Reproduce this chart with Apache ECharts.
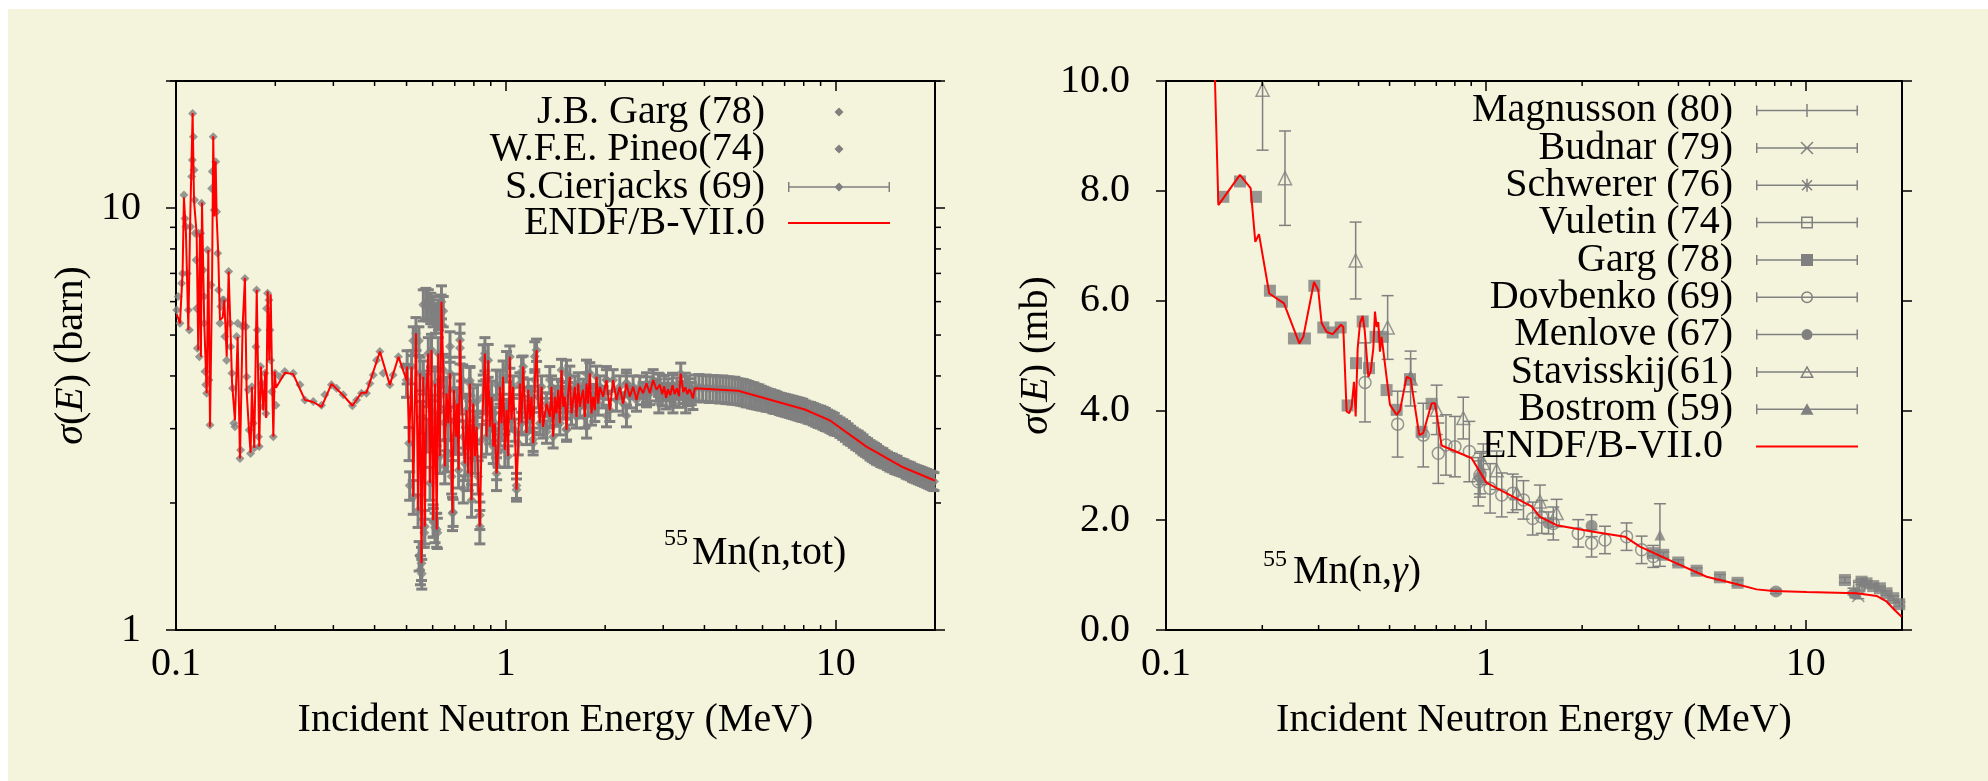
<!DOCTYPE html>
<html><head><meta charset="utf-8">
<script src="https://cdn.jsdelivr.net/npm/echarts@6.0.0/dist/echarts.min.js"></script>
<style>
html,body{margin:0;padding:0;background:#fff;}
#bg{position:absolute;left:8px;top:9px;width:1980px;height:772px;background:#f4f4dc;}
#chart{position:absolute;left:0;top:0;width:1988px;height:781px;}
</style></head><body><div id="bg"></div><div id="chart"></div>
<script>
// ---------------- data ----------------
// tick values
const energyMinorTicks = [0.2,0.3,0.4,0.5,0.6,0.7,0.8,0.9,2,3,4,5,6,7,8,9,20];
const totMinorTicks = [2,3,4,5,6,7,8,9,20];

// Left panel: 55Mn total cross section (barn)
const gargTot = [[0.1005,5.73],[0.1016,6.17],[0.1028,5.33],[0.1040,6.63],[0.1047,7.00],[0.1057,10.74],[0.1065,9.45],[0.1072,9.03],[0.1082,7.00],[0.1090,5.73],[0.1098,5.14],[0.1108,9.03],[0.1116,11.87],[0.1121,12.99],[0.1123,16.76],[0.1129,14.76],[0.1134,12.31],[0.1139,10.45],[0.1142,8.71],[0.1150,7.53],[0.1155,5.78],[0.1161,4.65],[0.1169,8.71],[0.1177,4.44],[0.1188,8.71],[0.1196,10.26],[0.1210,7.13],[0.1216,6.17],[0.1218,5.33],[0.1224,4.10],[0.1231,3.81],[0.1239,3.64],[0.1246,7.95],[0.1258,3.91],[0.1268,3.06],[0.1277,6.57],[0.1283,11.13],[0.1288,12.20],[0.1297,14.76],[0.1306,9.89],[0.1319,12.88],[0.1328,9.80],[0.1337,7.81],[0.1346,6.39],[0.1359,5.33],[0.1368,5.84],[0.1384,6.05],[0.1397,6.05],[0.1406,4.96],[0.1424,4.36],[0.1444,7.07],[0.1458,5.33],[0.1465,4.69],[0.1478,4.06],[0.1485,3.74],[0.1498,3.09],[0.1509,3.03],[0.1527,4.96],[0.1538,5.33],[0.1563,2.55],[0.1570,2.67],[0.1592,5.23],[0.1607,5.28],[0.1618,6.81],[0.1629,5.23],[0.1637,3.98],[0.1656,3.71],[0.1667,2.98],[0.1683,2.62],[0.1698,3.77],[0.1715,3.09],[0.1727,2.70],[0.1747,4.69],[0.1755,6.39],[0.1763,5.14],[0.1779,2.87],[0.1787,2.72],[0.1804,4.21],[0.1821,3.84],[0.1839,3.38],[0.1860,4.06],[0.1873,3.26],[0.1882,5.78],[0.1895,6.28],[0.1913,6.05],[0.1927,5.14],[0.1936,4.36],[0.1950,3.67],[0.1972,2.87],[0.1995,4.06],[0.2009,3.41]];
const pineoTot = [[0.2066,3.98],[0.2137,4.10],[0.2267,4.06],[0.2375,3.81],[0.2459,3.51],[0.2607,3.48],[0.2761,3.41],[0.2826,3.61],[0.2960,3.81],[0.3067,3.74],[0.3212,3.61],[0.3426,3.40],[0.3528,3.51],[0.3651,3.64],[0.3779,3.64],[0.3871,3.84],[0.3962,4.02],[0.4055,4.36],[0.4151,4.57],[0.4248,4.06],[0.4449,3.81],[0.4553,4.02],[0.4724,4.44],[0.4887,4.21]];
// resonance region 0.5-3.7 MeV: [E, sigma, error]; ENDF curve runs through these same readings
const totDense = [[0.500,3.91,0.35],[0.502,4.21,0.38],[0.509,2.77,0.25],[0.518,4.21,0.38],[0.524,2.07,0.19],[0.534,5.05,0.45],[0.542,1.92,0.17],[0.549,4.06,0.37],[0.555,1.44,0.13],[0.562,3.98,0.36],[0.568,1.76,0.16],[0.575,3.71,0.33],[0.582,4.52,0.41],[0.589,2.23,0.2],[0.595,4.61,0.41],[0.602,1.82,0.16],[0.610,3.84,0.35],[0.617,1.73,0.16],[0.624,4.52,0.41],[0.631,2.58,0.23],[0.638,6.00,0.54],[0.646,4.13,0.37],[0.653,2.44,0.22],[0.661,3.64,0.33],[0.669,3.09,0.28],[0.677,4.06,0.37],[0.685,2.31,0.21],[0.689,1.89,0.17],[0.696,3.71,0.33],[0.706,2.87,0.26],[0.712,3.44,0.31],[0.719,2.39,0.22],[0.726,4.87,0.44],[0.734,3.57,0.32],[0.743,2.87,0.26],[0.751,2.48,0.22],[0.760,3.32,0.3],[0.769,2.35,0.21],[0.778,3.84,0.35],[0.787,2.03,0.18],[0.796,3.44,0.31],[0.806,2.58,0.23],[0.815,3.03,0.27],[0.824,2.31,0.21],[0.834,1.76,0.16],[0.844,2.82,0.25],[0.854,3.57,0.32],[0.864,4.52,0.41],[0.874,2.87,0.26],[0.884,4.36,0.39],[0.894,3.03,0.27],[0.905,3.57,0.32],[0.916,2.72,0.24],[0.926,3.09,0.28],[0.937,2.35,0.21],[0.948,2.67,0.24],[0.959,3.77,0.34],[0.970,3.09,0.28],[0.981,3.98,0.36],[0.993,2.67,0.24],[1.005,3.32,0.2],[1.016,2.58,0.15],[1.028,4.44,0.27],[1.040,3.15,0.19],[1.052,3.77,0.23],[1.065,2.98,0.18],[1.077,2.15,0.13],[1.090,2.77,0.17],[1.103,3.84,0.23],[1.116,3.09,0.19],[1.128,4.21,0.25],[1.142,3.38,0.2],[1.155,2.93,0.18],[1.169,3.71,0.22],[1.182,3.15,0.19],[1.196,3.57,0.21],[1.210,2.77,0.17],[1.224,3.91,0.23],[1.239,4.61,0.28],[1.253,3.57,0.21],[1.268,3.09,0.19],[1.283,3.77,0.23],[1.297,3.03,0.18],[1.328,3.44,0.21],[1.359,3.20,0.19],[1.375,3.77,0.23],[1.391,2.87,0.17],[1.408,3.57,0.21],[1.424,3.26,0.2],[1.441,3.71,0.22],[1.458,3.09,0.19],[1.475,4.13,0.25],[1.492,3.38,0.2],[1.510,3.57,0.21],[1.527,2.98,0.18],[1.545,3.64,0.22],[1.563,3.98,0.24],[1.581,3.26,0.2],[1.600,3.51,0.21],[1.619,3.77,0.23],[1.637,3.20,0.19],[1.657,3.84,0.23],[1.676,3.38,0.2],[1.696,3.57,0.21],[1.715,3.71,0.22],[1.735,3.20,0.19],[1.756,3.84,0.23],[1.776,3.44,0.21],[1.797,4.06,0.24],[1.818,3.26,0.2],[1.839,3.57,0.21],[1.861,3.32,0.2],[1.883,3.98,0.24],[1.905,3.44,0.21],[1.927,3.77,0.23],[1.972,3.57,0.21],[2.018,3.91,0.23],[2.066,3.32,0.2],[2.114,3.91,0.23],[2.164,3.51,0.21],[2.215,3.77,0.23],[2.267,3.44,0.21],[2.320,3.84,0.23],[2.375,3.57,0.21],[2.431,3.77,0.23],[2.489,3.51,0.21],[2.547,3.77,0.23],[2.607,3.64,0.22],[2.669,3.84,0.23],[2.732,3.64,0.22],[2.796,3.91,0.23],[2.862,3.71,0.22],[2.929,3.81,0.23],[2.98,3.62,0.22],[3.02,3.78,0.23],[3.06,3.55,0.21],[3.1,3.72,0.22],[3.15,3.60,0.22],[3.2,3.80,0.23],[3.25,3.62,0.22],[3.3,3.74,0.22],[3.35,3.58,0.21],[3.39,4.05,0.24],[3.45,3.66,0.22],[3.5,3.76,0.23],[3.55,3.62,0.22],[3.6,3.72,0.22],[3.65,3.64,0.22],[3.69,3.54,0.21]];
// Cierjacks points that lie off the ENDF curve (inside and at the outer edge of the grey envelope)
const cierjacksOff = [[0.511,2.2,0.17],[0.524,4.85,0.38],[0.545,4.85,0.38],[0.546,1.5,0.12],[0.551,1.39,0.11],[0.556,1.36,0.11],[0.558,3.2,0.28],[0.562,5.9,0.5],[0.566,1.7,0.13],[0.572,5.95,0.5],[0.578,2.9,0.26],[0.582,5.9,0.5],[0.592,5.8,0.48],[0.598,3.3,0.3],[0.602,5.7,0.47],[0.603,1.8,0.14],[0.610,1.75,0.14],[0.612,5.5,0.45],[0.615,3.0,0.27],[0.620,1.7,0.14],[0.625,5.6,0.46],[0.634,3.6,0.32],[0.636,5.75,0.47],[0.646,5.7,0.47],[0.650,3.1,0.28],[0.665,2.6,0.23],[0.677,4.7,0.39],[0.692,1.9,0.14],[0.700,2.9,0.26],[0.726,4.66,0.39],[0.740,3.9,0.35],[0.743,2.16,0.16],[0.778,3.9,0.31],[0.790,2.8,0.25],[0.820,3.5,0.31],[0.834,1.87,0.14],[0.854,4.38,0.36],[0.870,3.6,0.32],[0.910,3.3,0.3],[0.937,3.82,0.31],[0.938,2.45,0.18],[0.960,3.0,0.27],[1.005,4.22,0.35],[1.077,2.2,0.15],[1.116,4.1,0.34],[1.210,2.83,0.18],[1.224,4.45,0.37],[1.328,2.95,0.18],[1.359,3.92,0.29],[1.527,4.05,0.31],[1.528,3.0,0.18],[1.756,4.05,0.31],[1.757,3.03,0.18],[2.018,3.92,0.29],[2.019,3.22,0.19],[2.320,3.85,0.28],[2.321,3.22,0.19],[2.669,3.72,0.26],[2.670,3.55,0.17],[2.9,3.82,0.24],[2.91,3.45,0.18],[3.2,3.82,0.24],[3.21,3.45,0.18],[3.5,3.82,0.24],[3.51,3.45,0.18]];
const cierjacksHigh = [[3.75,3.75,0.27],[3.85,3.76,0.27],[3.95,3.74,0.27],[4.05,3.75,0.27],[4.15,3.73,0.27],[4.25,3.74,0.27],[4.35,3.73,0.27],[4.45,3.72,0.27],[4.55,3.73,0.27],[4.65,3.71,0.27],[4.75,3.71,0.27],[4.85,3.70,0.27],[4.95,3.70,0.27],[5.05,3.68,0.26],[5.15,3.67,0.26],[5.25,3.66,0.26],[5.35,3.64,0.26],[5.45,3.63,0.25],[5.55,3.61,0.25],[5.65,3.60,0.25],[5.75,3.58,0.24],[5.85,3.57,0.24],[5.95,3.55,0.23],[6.05,3.54,0.22],[6.15,3.52,0.22],[6.25,3.51,0.21],[6.35,3.50,0.21],[6.45,3.48,0.21],[6.55,3.47,0.21],[6.65,3.46,0.2],[6.75,3.44,0.2],[6.85,3.43,0.2],[6.95,3.42,0.2],[7.05,3.41,0.2],[7.15,3.40,0.2],[7.25,3.39,0.2],[7.35,3.38,0.2],[7.45,3.37,0.2],[7.55,3.36,0.2],[7.65,3.35,0.2],[7.75,3.34,0.2],[7.85,3.33,0.2],[7.95,3.32,0.2],[8.1,3.30,0.19],[8.25,3.28,0.19],[8.4,3.27,0.19],[8.55,3.25,0.19],[8.7,3.23,0.19],[8.85,3.21,0.19],[9.0,3.20,0.19],[9.15,3.18,0.19],[9.3,3.16,0.19],[9.45,3.14,0.18],[9.6,3.12,0.18],[9.75,3.10,0.18],[9.9,3.08,0.18],[10.1,3.05,0.16],[10.3,3.02,0.16],[10.5,2.99,0.16],[10.7,2.96,0.16],[10.9,2.92,0.16],[11.1,2.89,0.15],[11.3,2.86,0.15],[11.5,2.83,0.15],[11.7,2.81,0.15],[11.9,2.78,0.15],[12.1,2.75,0.15],[12.3,2.72,0.14],[12.5,2.70,0.14],[12.7,2.67,0.14],[12.9,2.65,0.14],[13.1,2.63,0.14],[13.3,2.61,0.14],[13.5,2.59,0.13],[13.7,2.57,0.13],[13.9,2.56,0.13],[14.1,2.54,0.12],[14.35,2.52,0.12],[14.6,2.50,0.12],[14.85,2.49,0.12],[15.1,2.47,0.12],[15.35,2.46,0.12],[15.6,2.44,0.11],[15.85,2.43,0.11],[16.1,2.42,0.11],[16.35,2.40,0.11],[16.6,2.39,0.11],[16.85,2.38,0.11],[17.1,2.36,0.11],[17.35,2.35,0.11],[17.6,2.34,0.11],[17.85,2.33,0.11],[18.1,2.32,0.11],[18.35,2.31,0.11],[18.6,2.30,0.11],[18.85,2.29,0.11],[19.1,2.28,0.11],[19.35,2.27,0.11],[19.6,2.26,0.11],[19.85,2.25,0.11]];
const endfTotLow = [[0.1005,5.6],[0.1028,5.33],[0.1047,7.0],[0.1057,10.6],[0.1072,8.7],[0.1090,5.14],[0.1103,9.0],[0.1123,16.8],[0.1134,10.4],[0.1155,8.7],[0.1168,4.6],[0.1182,8.7],[0.1190,4.44],[0.1199,10.3],[0.1218,5.33],[0.1239,3.64],[0.1253,7.95],[0.1268,3.03],[0.1286,6.63],[0.1297,14.8],[0.1307,9.55],[0.1319,12.9],[0.1328,9.55],[0.1343,7.8],[0.1359,5.43],[0.1385,5.5],[0.1401,6.06],[0.1425,4.44],[0.1444,7.07],[0.1461,5.33],[0.1479,3.85],[0.1509,3.14],[0.1538,4.95],[0.1563,2.55],[0.1592,5.23],[0.1618,6.83],[0.1637,3.70],[0.1664,2.98],[0.1683,2.63],[0.1699,3.77],[0.1727,2.70],[0.1757,6.4],[0.1788,2.72],[0.1809,4.21],[0.1840,3.32],[0.1865,4.1],[0.1877,3.18],[0.1896,6.35],[0.1918,4.36],[0.1937,6.25],[0.1954,4.1],[0.1973,2.87],[0.1991,4.1],[0.2010,3.75],[0.2139,4.07],[0.2266,4.04],[0.2459,3.51],[0.2605,3.47],[0.2763,3.38],[0.2962,3.83],[0.3212,3.6],[0.3427,3.4],[0.3648,3.65],[0.3779,3.65],[0.4151,4.57],[0.4449,3.81],[0.4726,4.44],[0.4773,4.44]];
const endfTotHigh = [[3.74,3.74],[5.06,3.69],[8.06,3.33],[9.59,3.14],[12.39,2.72],[16.0,2.43],[19.7,2.27],[20,2.26]];

// Right panel: 55Mn(n,gamma) (mb), [E, sigma, error]
const magnusson = [[14.3,0.66,0.06]];
const budnar = [[14.6,0.62,0.05]];
const schwerer = [[14.1,0.70,0.06]];
const vuletin = [[14.7,0.80,0.07]];
const gargCap = [[0.1511,7.89,0],[0.1703,8.17,0],[0.1911,7.89,0],[0.2113,6.18,0],[0.2305,5.98,0],[0.2512,5.31,0],[0.2719,5.31,0],[0.2909,6.27,0],[0.3103,5.51,0],[0.3319,5.42,0],[0.3517,5.51,0],[0.3697,4.09,0],[0.3926,4.86,0],[0.4120,5.62,0],[0.4312,4.77,0],[0.452,5.34,0],[0.476,5.34,0],[0.4894,4.37,0],[0.5261,4.01,0],[0.5792,4.57,0],[0.6296,3.61,0],[0.6768,4.12,0],[3.337,1.40,0.05],[3.585,1.37,0.05],[3.995,1.23,0.05],[4.559,1.08,0.05],[5.393,0.96,0.05],[6.124,0.86,0.05],[13.26,0.91,0.05],[14.95,0.88,0.05],[15.49,0.85,0.04],[16.26,0.80,0.04],[17.06,0.76,0.04],[17.89,0.67,0.04],[18.78,0.58,0.04],[19.61,0.47,0.04]];
const dovbenko = [[0.4190,4.51,0.72],[0.5299,3.75,0.60],[0.6373,3.55,0.58],[0.7102,3.22,0.55],[0.7504,3.37,0.55],[0.8005,3.34,0.55],[0.8877,3.25,0.55],[0.9470,2.70,0.44],[0.9585,2.82,0.40],[1.031,2.58,0.45],[1.121,2.46,0.40],[1.214,2.49,0.35],[1.311,2.37,0.35],[1.401,2.03,0.30],[1.496,2.06,0.30],[1.625,1.94,0.30],[1.945,1.76,0.25],[2.141,1.58,0.25],[2.357,1.64,0.25],[2.754,1.70,0.25],[3.069,1.46,0.25],[3.337,1.34,0.2]];
const menlove = [[0.958,2.78,0.3],[1.57,1.95,0.2],[2.141,1.90,0.2],[8.07,0.70,0.04]];
const stavisskij = [[0.2004,9.84,1.1],[0.2355,8.23,0.86],[0.3917,6.73,0.7],[0.4931,5.51,0.58],[0.5818,4.58,0.5],[0.7017,4.01,0.45],[0.8500,3.86,0.38],[0.9817,3.04,0.35],[1.081,2.91,0.35],[1.248,2.49,0.3],[1.476,2.34,0.3],[1.664,2.13,0.25]];
const bostrom = [[0.5818,4.64,0.3],[0.9694,2.95,0.3],[3.501,1.73,0.57],[14.25,0.67,0.05]];
const endfCap = [[0.125,30],[0.1415,10.5],[0.1458,7.74],[0.1475,7.72],[0.1703,8.29],[0.1839,8.05],[0.1902,7.07],[0.1953,7.21],[0.2103,6.13],[0.2338,5.95],[0.2611,5.22],[0.2687,5.34],[0.2902,6.34],[0.2993,6.19],[0.3066,5.59],[0.3178,5.43],[0.3319,5.39],[0.3524,5.56],[0.3583,5.52],[0.3670,3.98],[0.3741,3.95],[0.3805,4.07],[0.3870,4.52],[0.3917,3.89],[0.3974,5.13],[0.4042,5.59],[0.4120,5.72],[0.4180,5.46],[0.4292,4.61],[0.4364,4.71],[0.4448,5.13],[0.4501,5.80],[0.4555,5.52],[0.4610,5.61],[0.4666,5.07],[0.4722,5.34],[0.5015,4.10],[0.5261,3.92],[0.5389,4.00],[0.5653,4.61],[0.5818,4.58],[0.6192,3.55],[0.6373,3.59],[0.6768,4.13],[0.6932,4.13],[0.7273,3.36],[0.8299,3.22],[0.9027,3.13],[1.0055,2.68],[1.390,2.25],[1.476,2.06],[1.664,1.91],[2.167,1.79],[2.721,1.70],[3.032,1.52],[3.854,1.24],[4.899,0.97],[5.935,0.85],[7.021,0.74],[7.916,0.71],[10.06,0.69],[14.42,0.67],[16.66,0.62],[17.89,0.52],[19.00,0.36],[19.94,0.24]];

// ---------------- styling / rendering ----------------
const FONT = '"Liberation Serif","Times New Roman",serif';
const GRAY = '#808080', RED = '#ff0000';
const FS = 40;

function errRender(capW, lw) {
  return function (params, api) {
    const cs = params.coordSys;
    const E = api.value(0), s = api.value(1), e = api.value(2);
    if (!(e > 0)) return {type: 'group', children: []};
    const hi = api.coord([E, s + e]), lo = api.coord([E, s - e]);
    const x = hi[0];
    const top = cs.y, bot = cs.y + cs.height;
    let y1 = hi[1], y2 = lo[1];
    const c1 = y1 >= top, c2 = y2 <= bot;
    y1 = Math.max(y1, top); y2 = Math.min(y2, bot);
    const st = {stroke: GRAY, lineWidth: lw};
    const ch = [{type: 'line', shape: {x1: x, y1: y1, x2: x, y2: y2}, style: st}];
    if (c1) ch.push({type: 'line', shape: {x1: x - capW / 2, y1: y1, x2: x + capW / 2, y2: y1}, style: st});
    if (c2) ch.push({type: 'line', shape: {x1: x - capW / 2, y1: y2, x2: x + capW / 2, y2: y2}, style: st});
    return {type: 'group', children: ch};
  };
}
function xTickRender(len) {
  return function (params, api) {
    const cs = params.coordSys;
    const x = api.coord([api.value(0), api.value(1)])[0];
    const b = cs.y + cs.height, t = cs.y;
    const st = {stroke: '#000', lineWidth: 1.5};
    return {type: 'group', children: [
      {type: 'line', shape: {x1: x, y1: b, x2: x, y2: b - len}, style: st},
      {type: 'line', shape: {x1: x, y1: t, x2: x, y2: t + len}, style: st}]};
  };
}
function yTickRender(len) {
  return function (params, api) {
    const cs = params.coordSys;
    const y = api.coord([api.value(0), api.value(1)])[1];
    const l = cs.x, r = cs.x + cs.width;
    const st = {stroke: '#000', lineWidth: 1.5};
    return {type: 'group', children: [
      {type: 'line', shape: {x1: l - len, y1: y, x2: l, y2: y}, style: st},
      {type: 'line', shape: {x1: r, y1: y, x2: r + len, y2: y}, style: st}]};
  };
}
function logLabel(v) {
  const l = Math.log10(v), r = Math.round(l);
  if (Math.abs(l - r) > 1e-6) return '';
  return r < 0 ? Math.pow(10, r).toFixed(-r) : String(Math.round(Math.pow(10, r)));
}
const labelStyle = {fontFamily: FONT, fontSize: FS, color: '#000'};
const axisLineStyle = {show: true, onZero: false, lineStyle: {color: '#000', width: 2}};
const tickStyle = {color: '#000', width: 1.5};
function xAx(grid, pos, withLabels) {
  return {
    gridIndex: grid, type: 'log', logBase: 10, min: 0.1, max: 20, position: pos,
    axisLine: axisLineStyle, splitLine: {show: false},
    axisTick: {show: true, inside: true, length: 10, lineStyle: tickStyle},
    axisLabel: withLabels ? Object.assign({formatter: logLabel, margin: 14}, labelStyle) : {show: false},
    name: withLabels ? 'Incident Neutron Energy (MeV)' : '', nameLocation: 'middle', nameGap: 70,
    nameTextStyle: labelStyle
  };
}
const yNameRich = {
  i: {fontFamily: FONT, fontSize: FS, fontStyle: 'italic', color: '#000'},
  n: {fontFamily: FONT, fontSize: FS, color: '#000'}
};

// legend icons (box 120 x 16; visible part from x=18)
const ICON_BASE = 'M0,0L0.01,0L0,0.01Z M120,16L119.99,16L120,15.99Z ';
const ICON_BAR = 'M18,7.25L120,7.25L120,8.75L18,8.75Z M18,3L19.5,3L19.5,13L18,13Z M118.5,3L120,3L120,13L118.5,13Z ';
const MK = {
  diamond: 'M69,3.5L73.5,8L69,12.5L64.5,8Z',
  plus: 'M68.25,1.5L69.75,1.5L69.75,14.5L68.25,14.5Z',
  cross: 'M63.53,1.47L75.53,13.47L74.47,14.53L62.47,2.53Z M75.53,2.53L63.53,14.53L62.47,13.47L74.47,1.47Z',
  star: 'M64.53,2.47L74.53,12.47L73.47,13.53L63.47,3.53Z M74.53,3.53L64.53,13.53L63.47,12.47L73.47,2.47Z M68.25,1.5L69.75,1.5L69.75,14.5L68.25,14.5Z',
  osquare: 'M63,2L75,2L75,14L63,14Z M64.5,3.5L64.5,12.5L73.5,12.5L73.5,3.5Z',
  square: 'M63,2L75,2L75,14L63,14Z',
  ocircle: 'M75,8A6,6,0,1,1,63,8A6,6,0,1,1,75,8Z M73.5,8A4.5,4.5,0,1,0,64.5,8A4.5,4.5,0,1,0,73.5,8Z',
  circle: 'M74.5,8A5.5,5.5,0,1,1,63.5,8A5.5,5.5,0,1,1,74.5,8Z',
  otri: 'M69,1.5L76,14L62,14Z M69,4.6L64.6,12.6L73.4,12.6Z',
  tri: 'M69,2L75.5,13.5L62.5,13.5Z'
};
function legendOf(name, icon, color, right, centerY) {
  return {
    show: true, data: [name], right: right, top: centerY - 20, orient: 'horizontal', align: 'right',
    padding: 0, itemWidth: 120, itemHeight: 16, icon: 'path://' + icon, selectedMode: false,
    itemStyle: {color: color, borderColor: 'rgba(0,0,0,0)', borderWidth: 0, opacity: 1},
    textStyle: {fontFamily: FONT, fontSize: FS, color: '#000'}
  };
}
function expSeries(name, data, gi, symbol, size, filled, capW, lw) {
  const ax = gi === 0 ? 0 : 2;
  return [
    {type: 'custom', name: name, xAxisIndex: ax, yAxisIndex: ax, data: data, renderItem: errRender(capW, lw),
     clip: false, silent: true, z: 2, itemStyle: {color: GRAY}},
    {type: 'scatter', name: name, xAxisIndex: ax, yAxisIndex: ax, data: data, symbol: symbol, symbolSize: size,
     silent: true, z: 3,
     itemStyle: filled ? {color: GRAY} : {color: 'rgba(0,0,0,0)', borderColor: GRAY, borderWidth: 1.5}}
  ];
}

const endfTotLine = endfTotLow.concat(totDense.map(p => [p[0], p[1]]), endfTotHigh);
const cierjacks = totDense.concat(cierjacksOff, cierjacksHigh);

const SYM_PLUS = 'path://M0,6L12,6M6,0L6,12';
const SYM_CROSS = 'path://M1,1L11,11M11,1L1,11';
const SYM_STAR = 'path://M0,6L12,6M6,0L6,12M2,2L10,10M10,2L2,10';

const series = [].concat(
  expSeries('J.B. Garg (78)', gargTot, 0, 'diamond', 9, true, 0, 1.5),
  expSeries('W.F.E. Pineo(74)', pineoTot, 0, 'diamond', 9, true, 0, 1.5),
  expSeries('S.Cierjacks (69)', cierjacks, 0, 'diamond', 10, true, 11, 3),
  [{type: 'line', name: 'ENDF/B-VII.0', xAxisIndex: 0, yAxisIndex: 0, data: endfTotLine, showSymbol: false,
    symbol: 'none', lineStyle: {color: RED, width: 2}, itemStyle: {color: RED}, z: 5, silent: true}],
  expSeries('Magnusson (80)', magnusson, 1, SYM_PLUS, 12, false, 12, 1.5),
  expSeries('Budnar (79)', budnar, 1, SYM_CROSS, 12, false, 12, 1.5),
  expSeries('Schwerer (76)', schwerer, 1, SYM_STAR, 12, false, 12, 1.5),
  expSeries('Vuletin (74)', vuletin, 1, 'rect', 11, false, 12, 1.5),
  expSeries('Garg (78)', gargCap, 1, 'rect', 12, true, 12, 1.5),
  expSeries('Dovbenko (69)', dovbenko, 1, 'circle', 12, false, 12, 1.5),
  expSeries('Menlove (67)', menlove, 1, 'circle', 12, true, 12, 1.5),
  expSeries('Stavisskij(61)', stavisskij, 1, 'triangle', 13, false, 12, 1.5),
  expSeries('Bostrom (59)', bostrom, 1, 'triangle', 11, true, 12, 1.5),
  [{type: 'line', name: 'ENDF/B-VII.0 ', xAxisIndex: 2, yAxisIndex: 2, data: endfCap, showSymbol: false,
    symbol: 'none', lineStyle: {color: RED, width: 2}, itemStyle: {color: RED}, z: 5, silent: true}],
  [
    {type: 'custom', xAxisIndex: 0, yAxisIndex: 0, data: energyMinorTicks.map(v => [v, 1]), renderItem: xTickRender(5), clip: false, silent: true, z: 6},
    {type: 'custom', xAxisIndex: 0, yAxisIndex: 0, data: totMinorTicks.map(v => [1, v]), renderItem: yTickRender(6), clip: false, silent: true, z: 6},
    {type: 'custom', xAxisIndex: 2, yAxisIndex: 2, data: energyMinorTicks.map(v => [v, 1]), renderItem: xTickRender(5), clip: false, silent: true, z: 6}
  ]
);

const rowsL = [112, 149, 187, 223];
const rowsR = [110.6, 148.0, 185.3, 222.6, 260.0, 297.3, 334.6, 372.0, 409.3, 446.6];
const legends = [
  legendOf('J.B. Garg (78)', ICON_BASE + MK.diamond, GRAY, 1098, rowsL[0]),
  legendOf('W.F.E. Pineo(74)', ICON_BASE + MK.diamond, GRAY, 1098, rowsL[1]),
  legendOf('S.Cierjacks (69)', ICON_BASE + ICON_BAR + MK.diamond, GRAY, 1098, rowsL[2]),
  legendOf('ENDF/B-VII.0', ICON_BASE + 'M18,7L120,7L120,9L18,9Z', RED, 1098, rowsL[3]),
  legendOf('Magnusson (80)', ICON_BASE + ICON_BAR + MK.plus, GRAY, 130, rowsR[0]),
  legendOf('Budnar (79)', ICON_BASE + ICON_BAR + MK.cross, GRAY, 130, rowsR[1]),
  legendOf('Schwerer (76)', ICON_BASE + ICON_BAR + MK.star, GRAY, 130, rowsR[2]),
  legendOf('Vuletin (74)', ICON_BASE + ICON_BAR + MK.osquare, GRAY, 130, rowsR[3]),
  legendOf('Garg (78)', ICON_BASE + ICON_BAR + MK.square, GRAY, 130, rowsR[4]),
  legendOf('Dovbenko (69)', ICON_BASE + ICON_BAR + MK.ocircle, GRAY, 130, rowsR[5]),
  legendOf('Menlove (67)', ICON_BASE + ICON_BAR + MK.circle, GRAY, 130, rowsR[6]),
  legendOf('Stavisskij(61)', ICON_BASE + ICON_BAR + MK.otri, GRAY, 130, rowsR[7]),
  legendOf('Bostrom (59)', ICON_BASE + ICON_BAR + MK.tri, GRAY, 130, rowsR[8]),
  legendOf('ENDF/B-VII.0 ', ICON_BASE + 'M18,7L120,7L120,9L18,9Z', RED, 130, rowsR[9])
];

const option = {
  animation: false,
  backgroundColor: 'transparent',
  grid: [
    {left: 176, top: 81, width: 759, height: 549, containLabel: false},
    {left: 1166, top: 81, width: 736, height: 549, containLabel: false}
  ],
  xAxis: [xAx(0, 'bottom', true), xAx(0, 'top', false), xAx(1, 'bottom', true), xAx(1, 'top', false)],
  yAxis: [
    {gridIndex: 0, type: 'log', logBase: 10, min: 1, max: 20, position: 'left',
     axisLine: axisLineStyle, splitLine: {show: false},
     axisTick: {show: true, inside: false, length: 10, lineStyle: tickStyle},
     axisLabel: Object.assign({formatter: logLabel, margin: 35}, labelStyle),
     name: '{i|σ}{n|(}{i|E}{n|) (barn)}', nameLocation: 'middle', nameGap: 85,
     nameTextStyle: {fontFamily: FONT, fontSize: FS, color: '#000', rich: yNameRich}},
    {gridIndex: 0, type: 'log', logBase: 10, min: 1, max: 20, position: 'right',
     axisLine: axisLineStyle, splitLine: {show: false},
     axisTick: {show: true, inside: false, length: 10, lineStyle: tickStyle}, axisLabel: {show: false}},
    {gridIndex: 1, type: 'value', min: 0, max: 10, interval: 2, position: 'left',
     axisLine: axisLineStyle, splitLine: {show: false},
     axisTick: {show: true, inside: false, length: 10, lineStyle: tickStyle},
     axisLabel: Object.assign({formatter: v => v.toFixed(1), margin: 36}, labelStyle),
     name: '{i|σ}{n|(}{i|E}{n|) (mb)}', nameLocation: 'middle', nameGap: 109,
     nameTextStyle: {fontFamily: FONT, fontSize: FS, color: '#000', rich: yNameRich}},
    {gridIndex: 1, type: 'value', min: 0, max: 10, interval: 2, position: 'right',
     axisLine: axisLineStyle, splitLine: {show: false},
     axisTick: {show: true, inside: false, length: 10, lineStyle: tickStyle}, axisLabel: {show: false}}
  ],
  legend: legends,
  graphic: [
    {type: 'text', x: 664, y: 539, z: 100, style: {text: '55', fontFamily: FONT, fontSize: 24, fill: '#000', align: 'left', verticalAlign: 'middle'}},
    {type: 'text', x: 692, y: 553, z: 100, style: {text: 'Mn(n,tot)', fontFamily: FONT, fontSize: FS, fill: '#000', align: 'left', verticalAlign: 'middle'}},
    {type: 'text', x: 1263, y: 560, z: 100, style: {text: '55', fontFamily: FONT, fontSize: 24, fill: '#000', align: 'left', verticalAlign: 'middle'}},
    {type: 'text', x: 1293, y: 572, z: 100, style: {text: '{n|Mn(n,}{i|γ}{n|)}', fontFamily: FONT, fontSize: FS, fill: '#000', align: 'left', verticalAlign: 'middle', rich: yNameRich}}
  ],
  series: series
};
const chart = echarts.init(document.getElementById('chart'), null, {renderer: 'canvas'});
chart.setOption(option);
</script></body></html>
